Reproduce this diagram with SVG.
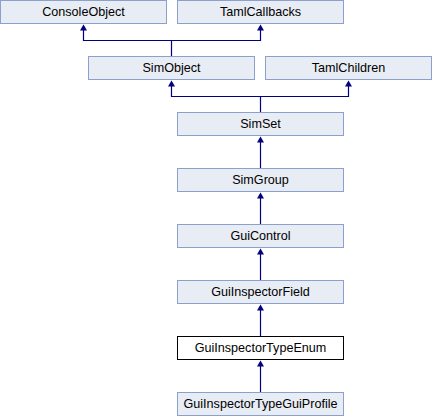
<svg xmlns="http://www.w3.org/2000/svg" width="432" height="416" viewBox="0 0 432 416">
  <style>
    .box { fill: #e8ecf5; stroke: #8ca0cc; stroke-width: 1; }
    .cur { fill: #ffffff; stroke: #000000; stroke-width: 1; }
    .lbl { font-family: "Liberation Sans", Arial, sans-serif; font-size: 12.6px; fill: #000000; text-anchor: middle; }
    .edge { fill: none; stroke: #000080; stroke-width: 1.2; }
    .head { fill: #000080; stroke: none; }
  </style>
  <defs>
    <path id="tip" class="head" d="M0,0 L-3.5,6 L3.5,6 Z"/>
  </defs>
  <rect width="432" height="416" fill="#ffffff"/>

  <g id="connectors">
    <path class="edge" d="M83.5,26 V40.5 H260.5 V26 M171.5,40.5 V56"/>
    <path class="edge" d="M171.5,82 V96.5 H348.5 V82 M260.5,96.5 V112"/>
    <path class="edge" d="M260.5,138 V168"/>
    <path class="edge" d="M260.5,194 V224"/>
    <path class="edge" d="M260.5,250 V280"/>
    <path class="edge" d="M260.5,306 V336"/>
    <path class="edge" d="M260.5,362 V392"/>
    <use href="#tip" x="83.5" y="24.5"/>
    <use href="#tip" x="260.5" y="24.5"/>
    <use href="#tip" x="171.5" y="80.5"/>
    <use href="#tip" x="348.5" y="80.5"/>
    <use href="#tip" x="260.5" y="136.5"/>
    <use href="#tip" x="260.5" y="192.5"/>
    <use href="#tip" x="260.5" y="248.5"/>
    <use href="#tip" x="260.5" y="304.5"/>
    <use href="#tip" x="260.5" y="360.5"/>
  </g>

  <g id="ConsoleObject">
    <rect class="box" x="0.5" y="0.5" width="166" height="23"/>
    <text class="lbl" x="83.5" y="16">ConsoleObject</text>
  </g>
  <g id="TamlCallbacks">
    <rect class="box" x="177.5" y="0.5" width="166" height="23"/>
    <text class="lbl" x="260.5" y="16">TamlCallbacks</text>
  </g>
  <g id="SimObject">
    <rect class="box" x="88.5" y="56.5" width="166" height="23"/>
    <text class="lbl" x="171.5" y="72">SimObject</text>
  </g>
  <g id="TamlChildren">
    <rect class="box" x="265.5" y="56.5" width="166" height="23"/>
    <text class="lbl" x="348.5" y="72">TamlChildren</text>
  </g>
  <g id="SimSet">
    <rect class="box" x="177.5" y="112.5" width="166" height="23"/>
    <text class="lbl" x="260.5" y="128">SimSet</text>
  </g>
  <g id="SimGroup">
    <rect class="box" x="177.5" y="168.5" width="166" height="23"/>
    <text class="lbl" x="260.5" y="184">SimGroup</text>
  </g>
  <g id="GuiControl">
    <rect class="box" x="177.5" y="224.5" width="166" height="23"/>
    <text class="lbl" x="260.5" y="240">GuiControl</text>
  </g>
  <g id="GuiInspectorField">
    <rect class="box" x="177.5" y="280.5" width="166" height="23"/>
    <text class="lbl" x="260.5" y="296">GuiInspectorField</text>
  </g>
  <g id="GuiInspectorTypeEnum">
    <rect class="cur" x="177.5" y="336.5" width="166" height="23"/>
    <text class="lbl" x="260.5" y="352">GuiInspectorTypeEnum</text>
  </g>
  <g id="GuiInspectorTypeGuiProfile">
    <rect class="box" x="177.5" y="392.5" width="166" height="23"/>
    <text class="lbl" x="260.5" y="408">GuiInspectorTypeGuiProfile</text>
  </g>
</svg>
